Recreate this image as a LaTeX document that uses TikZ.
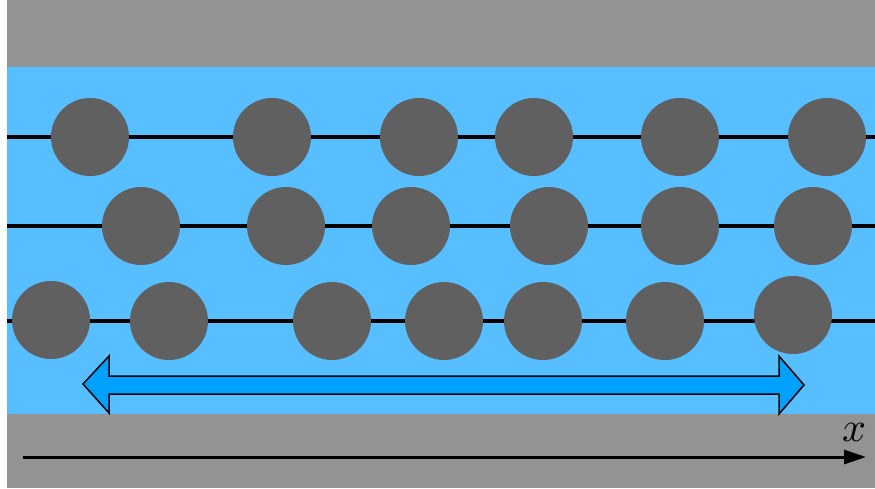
\documentclass[tikz,border=0pt]{standalone}
\usetikzlibrary{arrows.meta}
\definecolor{wallgray}{HTML}{939393}
\definecolor{fluid}{HTML}{57BFFF}
\definecolor{particle}{HTML}{606060}
\definecolor{arrowblue}{HTML}{00A0FF}
\tikzset{
  particle/.style={circle, fill=particle, minimum size=78pt, inner sep=0pt, draw=none},
  chain/.style={line width=4pt, black},
}
\begin{document}
\begin{tikzpicture}[x=1pt,y=-1pt]
\useasboundingbox (0,0) rectangle (875,488);
\fill[white] (0,0) rectangle (875,488);
% walls and fluid
\fill[wallgray] (7,0) rectangle (875,67);
\fill[fluid] (7,67) rectangle (875,414);
\fill[wallgray] (7,414) rectangle (875,488);
% chains
\coordinate (l1a) at (7,137); \coordinate (l1b) at (875,137);
\coordinate (l2a) at (7,226); \coordinate (l2b) at (875,226);
\coordinate (l3a) at (7,321); \coordinate (l3b) at (875,321);
\draw[chain] (l1a) -- (l1b);
\draw[chain] (l2a) -- (l2b);
\draw[chain] (l3a) -- (l3b);
% row 1
\foreach \x [count=\i] in {90,272,419,534,680,827}
  \node[particle] (a\i) at (\x,137) {};
% row 2
\foreach \x [count=\i] in {141,286,411,549,680,813}
  \node[particle] (b\i) at (\x,226) {};
% row 3
\node[particle] (c1) at (51,320) {};
\foreach \x [count=\i from 2] in {169,332,444,543,665}
  \node[particle] (c\i) at (\x,321) {};
\node[particle] (c7) at (793,315) {};
% double arrow
\draw[fill=arrowblue, line width=1.5pt, line join=miter]
  (83,384) -- (109,356) -- (109,376) -- (779,376) -- (779,356) -- (804,385)
  -- (779,414) -- (779,394) -- (109,394) -- (109,413) -- cycle;
% axis
\coordinate (ax0) at (23,457);
\coordinate (ax1) at (866,457);
\draw[line width=3pt, -{Triangle[length=22pt,width=14pt]}] (ax0) -- (ax1);
\node[scale=4.2, inner sep=0pt] (xl) at (854,432) {$x$};
\end{tikzpicture}
\end{document}
